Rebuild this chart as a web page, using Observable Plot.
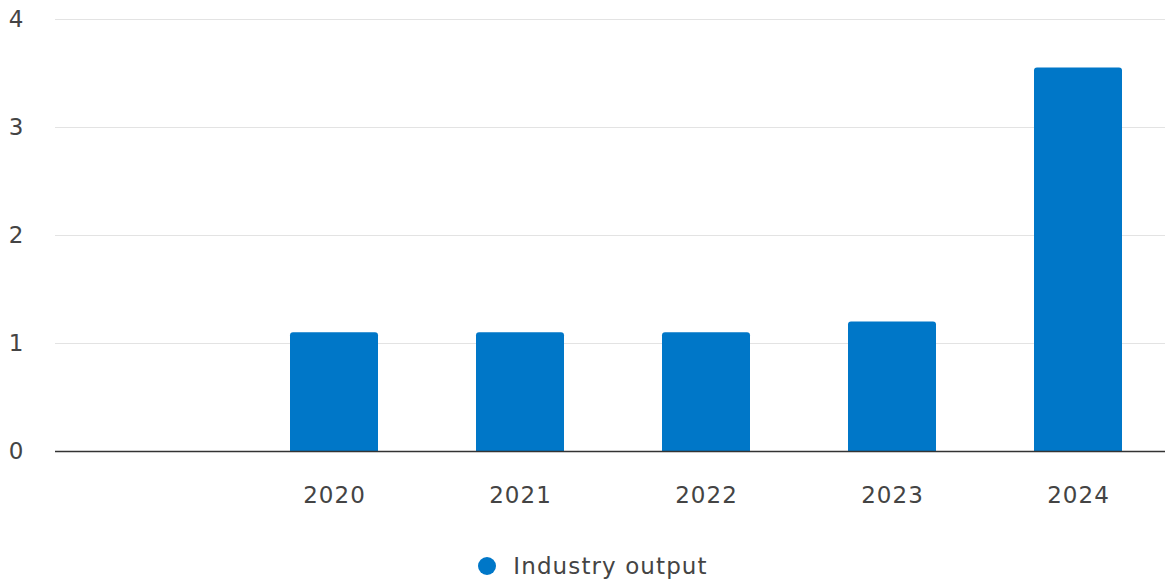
<!DOCTYPE html>
<html>
<head>
<meta charset="utf-8">
<script src="https://cdn.jsdelivr.net/npm/d3@7"></script>
<script src="https://cdn.jsdelivr.net/npm/@observablehq/plot@0.6"></script>
<style>
  html, body { margin: 0; padding: 0; background: #fff; }
  body { width: 1165px; font-family: "DejaVu Sans", sans-serif; }
  #chart svg { display: block; }
  #legend { display: flex; align-items: center; justify-content: center; height: 40px; margin-top: 26px; padding-left: 21px; font-size: 23px; color: #444; letter-spacing: 1.1px; }
  #legend .dot { width: 18px; height: 18px; border-radius: 50%; background: #0077c8; margin-right: 17px; }
</style>
</head>
<body>
<div id="chart"></div>
<div id="legend"><span class="dot"></span><span>Industry output</span></div>
<script>
const years = ["2020", "2021", "2022", "2023", "2024"];
const values = [1.1, 1.1, 1.1, 1.2, 3.55];
const yTicks = [0, 1, 2, 3, 4];
const seriesName = "Industry output";
const slots = ["", ...years];

const data = years.map((year, i) => ({year, value: values[i], series: seriesName}));

const chart = Plot.plot({
  width: 1165,
  height: 520,
  marginLeft: 55,
  marginRight: 0,
  marginTop: 19,
  marginBottom: 69,
  style: { fontFamily: "DejaVu Sans, sans-serif", fontSize: "23px", color: "#444", background: "#fff", letterSpacing: "1px" },
  x: { domain: slots, range: [55, 1171], paddingInner: 0.527, paddingOuter: 0.2635, label: null },
  y: { domain: [0, 4], label: null },
  marks: [
    Plot.gridY(yTicks, { stroke: "#e3e3e3", strokeOpacity: 1, strokeWidth: 1.2 }),
    Plot.barY(data, { x: "year", y: "value", fill: "#0077c8", ry1: 3, rx1y1: 3, rx2y1: 3 }),
    Plot.ruleY([0], { stroke: "#333", strokeWidth: 1.5 }),
    Plot.axisY({ ticks: yTicks, tickSize: 0, tickPadding: 31, label: null, fill: "#444", tickFormat: d3.format("d") }),
    Plot.axisX({ tickSize: 0, tickPadding: 35, label: null, fill: "#444", tickFormat: d => d })
  ]
});
document.getElementById("chart").appendChild(chart);
</script>
</body>
</html>
